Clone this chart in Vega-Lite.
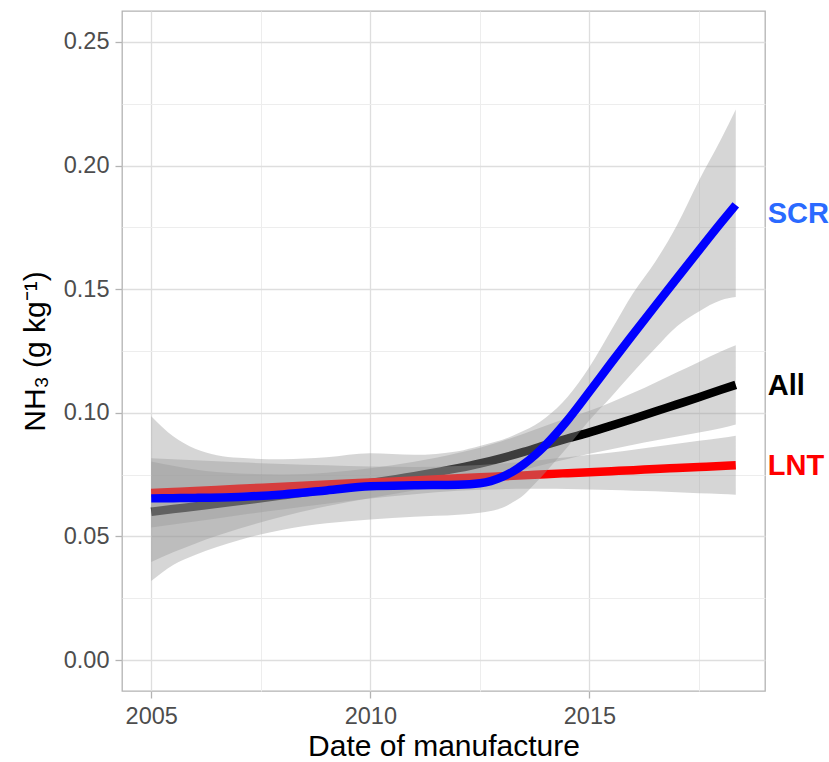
{
  "$schema": "https://vega.github.io/schema/vega-lite/v6.json",
  "width": 643,
  "height": 680,
  "autosize": {"type": "none"},
  "padding": {"left": 122, "top": 11, "right": 64, "bottom": 71},
  "config": {
    "font": "Liberation Sans",
    "view": {"stroke": "#B3B3B3", "strokeWidth": 1.3},
    "axis": {
      "domain": false,
      "tickColor": "#B3B3B3",
      "tickSize": 7,
      "tickWidth": 1.3,
      "labelColor": "#4D4D4D",
      "labelFont": "Liberation Sans",
      "labelFontSize": 23.5,
      "titleFont": "Liberation Sans",
      "titleFontSize": 30,
      "titleFontWeight": "normal",
      "titleColor": "#000000"
    }
  },
  "datasets": {
    "fits": [
      {"s":"All","x":2005,"y":0.0600,"lo":0.0397,"hi":0.0803},
      {"s":"All","x":2005.5,"y":0.0611,"lo":0.0436,"hi":0.0786},
      {"s":"All","x":2006,"y":0.0621,"lo":0.0471,"hi":0.0771},
      {"s":"All","x":2007,"y":0.0643,"lo":0.0531,"hi":0.0755},
      {"s":"All","x":2008,"y":0.0666,"lo":0.0581,"hi":0.0751},
      {"s":"All","x":2009,"y":0.0690,"lo":0.0622,"hi":0.0758},
      {"s":"All","x":2010,"y":0.0716,"lo":0.0656,"hi":0.0776},
      {"s":"All","x":2011,"y":0.0744,"lo":0.0686,"hi":0.0802},
      {"s":"All","x":2012,"y":0.0776,"lo":0.0715,"hi":0.0837},
      {"s":"All","x":2012.5,"y":0.0795,"lo":0.0731,"hi":0.0859},
      {"s":"All","x":2013,"y":0.0817,"lo":0.0749,"hi":0.0885},
      {"s":"All","x":2013.5,"y":0.0842,"lo":0.0769,"hi":0.0915},
      {"s":"All","x":2014,"y":0.0870,"lo":0.0792,"hi":0.0948},
      {"s":"All","x":2014.5,"y":0.0896,"lo":0.0813,"hi":0.0979},
      {"s":"All","x":2015,"y":0.0921,"lo":0.0834,"hi":0.1008},
      {"s":"All","x":2015.5,"y":0.0948,"lo":0.0853,"hi":0.1043},
      {"s":"All","x":2016,"y":0.0976,"lo":0.0871,"hi":0.1081},
      {"s":"All","x":2016.5,"y":0.1005,"lo":0.0888,"hi":0.1122},
      {"s":"All","x":2017,"y":0.1034,"lo":0.0904,"hi":0.1164},
      {"s":"All","x":2017.5,"y":0.1063,"lo":0.0920,"hi":0.1206},
      {"s":"All","x":2018,"y":0.1093,"lo":0.0938,"hi":0.1248},
      {"s":"All","x":2018.34,"y":0.1113,"lo":0.0953,"hi":0.1273},
      {"s":"LNT","x":2005,"y":0.0676,"lo":0.0536,"hi":0.0816},
      {"s":"LNT","x":2005.5,"y":0.0680,"lo":0.0548,"hi":0.0812},
      {"s":"LNT","x":2006,"y":0.0684,"lo":0.0560,"hi":0.0808},
      {"s":"LNT","x":2007,"y":0.0693,"lo":0.0586,"hi":0.0800},
      {"s":"LNT","x":2008,"y":0.0701,"lo":0.0609,"hi":0.0793},
      {"s":"LNT","x":2009,"y":0.0710,"lo":0.0632,"hi":0.0788},
      {"s":"LNT","x":2010,"y":0.0718,"lo":0.0653,"hi":0.0783},
      {"s":"LNT","x":2011,"y":0.0726,"lo":0.0671,"hi":0.0781},
      {"s":"LNT","x":2012,"y":0.0735,"lo":0.0685,"hi":0.0785},
      {"s":"LNT","x":2012.5,"y":0.0739,"lo":0.0689,"hi":0.0789},
      {"s":"LNT","x":2013,"y":0.0743,"lo":0.0691,"hi":0.0795},
      {"s":"LNT","x":2013.5,"y":0.0747,"lo":0.0693,"hi":0.0801},
      {"s":"LNT","x":2014,"y":0.0752,"lo":0.0693,"hi":0.0811},
      {"s":"LNT","x":2014.5,"y":0.0756,"lo":0.0692,"hi":0.0820},
      {"s":"LNT","x":2015,"y":0.0760,"lo":0.0690,"hi":0.0830},
      {"s":"LNT","x":2015.5,"y":0.0764,"lo":0.0688,"hi":0.0840},
      {"s":"LNT","x":2016,"y":0.0768,"lo":0.0685,"hi":0.0851},
      {"s":"LNT","x":2016.5,"y":0.0773,"lo":0.0683,"hi":0.0863},
      {"s":"LNT","x":2017,"y":0.0777,"lo":0.0679,"hi":0.0875},
      {"s":"LNT","x":2017.5,"y":0.0781,"lo":0.0675,"hi":0.0887},
      {"s":"LNT","x":2018,"y":0.0785,"lo":0.0672,"hi":0.0898},
      {"s":"LNT","x":2018.34,"y":0.0788,"lo":0.0669,"hi":0.0907},
      {"s":"SCR","x":2005,"y":0.0654,"lo":0.0320,"hi":0.0986},
      {"s":"SCR","x":2005.5,"y":0.0655,"lo":0.0385,"hi":0.0905},
      {"s":"SCR","x":2006,"y":0.0656,"lo":0.0425,"hi":0.0855},
      {"s":"SCR","x":2007,"y":0.0660,"lo":0.0485,"hi":0.0818},
      {"s":"SCR","x":2008,"y":0.0670,"lo":0.0527,"hi":0.0812},
      {"s":"SCR","x":2009,"y":0.0686,"lo":0.0553,"hi":0.0820},
      {"s":"SCR","x":2010,"y":0.0703,"lo":0.0569,"hi":0.0836},
      {"s":"SCR","x":2011,"y":0.0707,"lo":0.0580,"hi":0.0830},
      {"s":"SCR","x":2012,"y":0.0709,"lo":0.0588,"hi":0.0845},
      {"s":"SCR","x":2012.5,"y":0.0715,"lo":0.0596,"hi":0.0866},
      {"s":"SCR","x":2012.75,"y":0.0724,"lo":0.0603,"hi":0.0878},
      {"s":"SCR","x":2013,"y":0.0740,"lo":0.0615,"hi":0.0890},
      {"s":"SCR","x":2013.25,"y":0.0762,"lo":0.0638,"hi":0.0907},
      {"s":"SCR","x":2013.5,"y":0.0792,"lo":0.0668,"hi":0.0927},
      {"s":"SCR","x":2013.75,"y":0.0828,"lo":0.0712,"hi":0.0950},
      {"s":"SCR","x":2014,"y":0.0870,"lo":0.0760,"hi":0.0980},
      {"s":"SCR","x":2014.5,"y":0.0970,"lo":0.0862,"hi":0.1064},
      {"s":"SCR","x":2015,"y":0.1085,"lo":0.0970,"hi":0.1185},
      {"s":"SCR","x":2015.5,"y":0.1203,"lo":0.1065,"hi":0.1335},
      {"s":"SCR","x":2016,"y":0.1318,"lo":0.1165,"hi":0.1485},
      {"s":"SCR","x":2016.5,"y":0.1432,"lo":0.1260,"hi":0.1610},
      {"s":"SCR","x":2017,"y":0.1545,"lo":0.1350,"hi":0.1760},
      {"s":"SCR","x":2017.5,"y":0.1657,"lo":0.1410,"hi":0.1940},
      {"s":"SCR","x":2018,"y":0.1768,"lo":0.1455,"hi":0.2105},
      {"s":"SCR","x":2018.34,"y":0.1841,"lo":0.1468,"hi":0.2227}
    ],
    "labels": [
      {"label":"SCR","x":2018.34,"y":0.1805},
      {"label":"All","x":2018.34,"y":0.1108},
      {"label":"LNT","x":2018.34,"y":0.0785}
    ]
  },
  "data": {"name": "fits"},
  "encoding": {
    "x": {
      "field": "x", "type": "quantitative",
      "scale": {"domain": [2004.333, 2019.007], "nice": false, "zero": false},
      "axis": {
        "title": "Date of manufacture",
        "values": [2005, 2007.5, 2010, 2012.5, 2015, 2017.5],
        "labelExpr": "datum.value % 5 != 0 ? '' : format(datum.value, 'd')",
        "labelPadding": 6,
        "titlePadding": 4,
        "tickColor": {"condition": {"test": "datum.value % 5 != 0", "value": "transparent"}, "value": "#B3B3B3"},
        "gridColor": {"condition": {"test": "datum.value % 5 != 0", "value": "#EDEDED"}, "value": "#DEDEDE"},
        "gridWidth": {"condition": {"test": "datum.value % 5 != 0", "value": 1}, "value": 1.3}
      }
    },
    "y": {
      "field": "y", "type": "quantitative",
      "scale": {"domain": [-0.0125, 0.2625], "nice": false, "zero": false},
      "axis": {
        "title": "NH₃ (g kg⁻¹)",
        "values": [0, 0.025, 0.05, 0.075, 0.1, 0.125, 0.15, 0.175, 0.2, 0.225, 0.25],
        "labelExpr": "round(datum.value*40) % 2 == 1 ? '' : format(datum.value, '.2f')",
        "labelPadding": 6,
        "titlePadding": 13,
        "tickColor": {"condition": {"test": "round(datum.value*40) % 2 == 1", "value": "transparent"}, "value": "#B3B3B3"},
        "gridColor": {"condition": {"test": "round(datum.value*40) % 2 == 1", "value": "#EDEDED"}, "value": "#DEDEDE"},
        "gridWidth": {"condition": {"test": "round(datum.value*40) % 2 == 1", "value": 1}, "value": 1.3}
      }
    }
  },
  "layer": [
    {
      "transform": [{"filter": "datum.s === 'All'"}],
      "mark": {"type": "area", "fill": "#999999", "opacity": 0.4, "interpolate": "monotone"},
      "encoding": {"y": {"field": "lo", "type": "quantitative"}, "y2": {"field": "hi"}}
    },
    {
      "transform": [{"filter": "datum.s === 'All'"}],
      "mark": {"type": "line", "stroke": "#000000", "strokeWidth": 8.5, "strokeCap": "butt", "interpolate": "monotone"},
      "encoding": {}
    },
    {
      "transform": [{"filter": "datum.s === 'LNT'"}],
      "mark": {"type": "area", "fill": "#999999", "opacity": 0.4, "interpolate": "monotone"},
      "encoding": {"y": {"field": "lo", "type": "quantitative"}, "y2": {"field": "hi"}}
    },
    {
      "transform": [{"filter": "datum.s === 'LNT'"}],
      "mark": {"type": "line", "stroke": "#FF0000", "strokeWidth": 8.5, "strokeCap": "butt", "interpolate": "monotone"},
      "encoding": {}
    },
    {
      "transform": [{"filter": "datum.s === 'SCR'"}],
      "mark": {"type": "area", "fill": "#999999", "opacity": 0.4, "interpolate": "monotone"},
      "encoding": {"y": {"field": "lo", "type": "quantitative"}, "y2": {"field": "hi"}}
    },
    {
      "transform": [{"filter": "datum.s === 'SCR'"}],
      "mark": {"type": "line", "stroke": "#0000FF", "strokeWidth": 8.5, "strokeCap": "butt", "interpolate": "monotone"},
      "encoding": {}
    },
    {
      "data": {"name": "labels"},
      "mark": {"type": "text", "align": "left", "baseline": "middle", "dx": 32, "fontSize": 29, "fontWeight": "bold", "font": "Liberation Sans"},
      "encoding": {
        "text": {"field": "label"},
        "color": {"field": "label", "type": "nominal", "scale": {"domain": ["SCR", "All", "LNT"], "range": ["#2A6AFF", "#000000", "#FF0000"]}, "legend": null}
      }
    }
  ]
}
